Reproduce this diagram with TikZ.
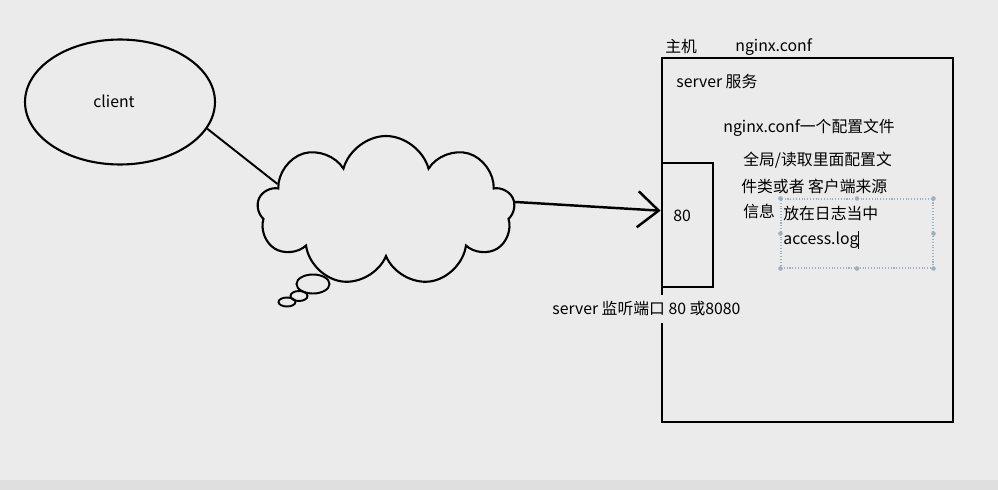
\documentclass[tikz,border=0pt]{standalone}
\usepackage{fontspec}
\setmainfont{Noto Sans CJK SC}
\usepackage{tikz}
\usetikzlibrary{shapes.geometric, shapes.symbols, positioning, arrows.meta}
\definecolor{SlideGray}{RGB}{235,235,235}
\definecolor{BarGray}{RGB}{222,223,222}
\definecolor{SelGray}{RGB}{160,175,190}

\begin{document}
\begin{tikzpicture}[x=0.02cm, y=-0.02cm,
          lbl/.style={anchor=west, inner sep=0pt, font=\fontsize{9}{11}\selectfont},
          frame/.style={draw, line width=1.6pt, rectangle, inner sep=0pt},
          line/.style={line width=1.1pt},
          arr/.style={-{Straight Barb[length=0.42cm, width=0.72cm, line width=1.4pt]}, line width=1.4pt}
        ]
        % slide background
        \fill[SlideGray] (0,0) rectangle (998,490);
        \fill[BarGray] (0,480) rectangle (998,490);
        \useasboundingbox (0,0) rectangle (998,490);

        \node[draw, line width=1.2pt, ellipse, minimum width=3.8cm,
              minimum height=2.5cm] (client) at (120,102) {};
        \node[lbl] (clienttxt) at (93,101) {client};

        \node[draw, line width=1.2pt, cloud, cloud puffs=9, aspect=1.75,
              minimum width=5.15cm, minimum height=3.0cm] (net) at (386,211) {};
        \node[draw, line width=1.1pt, ellipse, minimum width=0.66cm,
              minimum height=0.38cm, inner sep=0pt] (bub1) at (313,284) {};
        \node[draw, line width=1.1pt, ellipse, minimum width=0.34cm,
              minimum height=0.2cm, inner sep=0pt] (bub2) at (299,296) {};
        \node[draw, line width=1.1pt, ellipse, minimum width=0.34cm,
              minimum height=0.18cm, inner sep=0pt] (bub3) at (287,302) {};

        \node[frame, minimum width=5.82cm, minimum height=7.28cm] (host) at (807.5,240) {};
        \node[frame, minimum width=1.02cm, minimum height=2.48cm] (port) at (687.5,225) {};
        \node[lbl] (p80) at (673,216) {80};

        \draw[line] (client.-17) -- (net.166);
        \draw[arr] (net.4) -- (port.152);

        \node[lbl] (hostlbl) at (665,46) {主机};
        \node[lbl] (conflbl) at (735,47) {nginx.conf};
        \node[lbl] (srv) at (676,81) {server 服务};
        \node[lbl] (conf) at (723,128) {nginx.conf一个配置文件};
        \node[lbl] (line1) at (743,160) {全局/读取里面配置文};
        \node[lbl] (line2) at (741,186) {件类或者 客户端来源};
        \node[lbl] (line3) at (743,211) {信息};
        \node[lbl] (logtxt) at (783,213) {放在日志当中};
        \node[lbl] (acc) at (783,240) {access.log};
        \node[lbl, fill=SlideGray, inner ysep=4pt] (listen) at (552,309)
              {server 监听端口 80 或8080};

        % text box selection
        \node[draw=SelGray, densely dotted, line width=0.6pt, minimum width=3.04cm,
              minimum height=1.38cm] (sel) at (857,233.5) {};
        \foreach \a in {north west, north, north east, east,
                        south east, south, south west, west}
          \fill[SelGray] (sel.\a) circle (1.3pt);
        \draw[line width=0.6pt] (acc.north east) -- (acc.south east);
      \end{tikzpicture}
\end{document}
